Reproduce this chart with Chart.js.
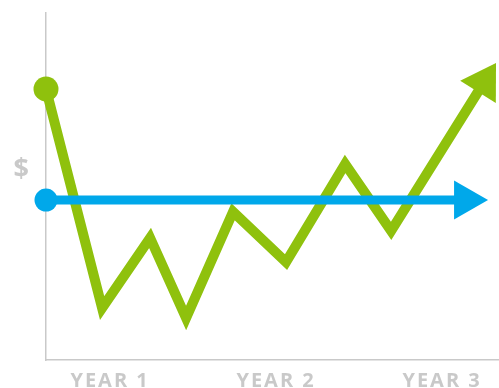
<!DOCTYPE html>
<html>
<head>
<meta charset="utf-8">
<script src="https://cdn.jsdelivr.net/npm/chart.js@4.4.1/dist/chart.umd.min.js"></script>
<style>
  html, body { margin: 0; padding: 0; background: #ffffff; overflow: hidden; }
  #wrap { width: 499px; height: 388px; position: relative; overflow: hidden; }
  #c { display: block; }
</style>
</head>
<body>
<div id="wrap"><canvas id="c"></canvas></div>
<script>
// ---- data (x in years, y in arbitrary $ units 0..100) ----
const yearTicks = [1, 2, 3];
const yearLabels = ['YEAR 1', 'YEAR 2', 'YEAR 3'];
const dollarTick = [55.0];
const dollarLabel = ['$'];

const greenX = [0.614, 0.952, 1.241, 1.458, 1.741, 2.060, 2.416, 2.693, 3.325];
const greenY = [78.1, 15.0, 35.2, 12.1, 42.7, 28.2, 56.5, 37.2, 85.6];

const blueX = [0.614, 3.277];
const blueY = [46.1, 46.1];

const xRange = [0.614, 3.343];
const yRange = [0, 100];

const GREEN = '#8fc10d';
const BLUE = '#00a8ea';
const GREY = '#c9c9c9';

const toPoints = (xs, ys) => xs.map((x, i) => ({ x, y: ys[i] }));

const arrowPlugin = {
  id: 'arrowHeads',
  beforeDraw(chart) { chart.ctx.letterSpacing = '2px'; },
  afterDraw(chart) { chart.ctx.letterSpacing = '0px'; },
  beforeDatasetDraw(chart, args) {
    const ds = chart.data.datasets[args.index];
    if (!ds.arrowHead) return;
    const pts = args.meta.data;
    const n = pts.length;
    const tip = pts[n - 1], prev = pts[n - 2];
    const dx = tip.x - prev.x, dy = tip.y - prev.y;
    const len = Math.hypot(dx, dy);
    const ux = dx / len, uy = dy / len;
    const a = { tx: tip.x, ty: tip.y, ux, uy };
    args.meta._arrowInfo = a;
    const back = ds.arrowHead.length * 0.6;
    tip.x = a.tx - ux * back;
    tip.y = a.ty - uy * back;
  },
  afterDatasetDraw(chart, args) {
    const ds = chart.data.datasets[args.index];
    const a = args.meta._arrowInfo;
    if (!ds.arrowHead || !a) return;
    const pts = args.meta.data;
    const tip = pts[pts.length - 1];
    tip.x = a.tx; tip.y = a.ty;
    const L = ds.arrowHead.length, W = ds.arrowHead.halfWidth;
    const bx = a.tx - a.ux * L, by = a.ty - a.uy * L;
    const px = -a.uy, py = a.ux;
    const ctx = chart.ctx;
    ctx.save();
    ctx.fillStyle = ds.borderColor;
    ctx.beginPath();
    ctx.moveTo(a.tx, a.ty);
    ctx.lineTo(bx + px * W, by + py * W);
    ctx.lineTo(bx - px * W, by - py * W);
    ctx.closePath();
    ctx.fill();
    ctx.restore();
  }
};

const noPad = (s) => { s.paddingLeft = 0; s.paddingRight = 0; s.paddingTop = 0; s.paddingBottom = 0; };

new Chart(document.getElementById('c'), {
  type: 'line',
  data: {
    datasets: [
      {
        data: toPoints(blueX, blueY),
        borderColor: BLUE,
        backgroundColor: BLUE,
        borderWidth: 9,
        borderCapStyle: 'butt',
        pointRadius: (c) => c.dataIndex === 0 ? 11.5 : 0,
        pointBackgroundColor: BLUE,
        pointBorderWidth: 0,
        pointHoverRadius: 0,
        tension: 0,
        clip: false,
        arrowHead: { length: 34, halfWidth: 19.5 }
      },
      {
        data: toPoints(greenX, greenY),
        borderColor: GREEN,
        backgroundColor: GREEN,
        borderWidth: 10,
        borderJoinStyle: 'miter',
        borderCapStyle: 'butt',
        pointRadius: (c) => c.dataIndex === 0 ? 12.5 : 0,
        pointBackgroundColor: GREEN,
        pointBorderWidth: 0,
        pointHoverRadius: 0,
        tension: 0,
        clip: false,
        arrowHead: { length: 34, halfWidth: 21 }
      }
    ]
  },
  options: {
    responsive: true,
    maintainAspectRatio: false,
    animation: false,
    events: [],
    layout: { autoPadding: false, padding: { top: 13, right: 0, left: 0, bottom: 0 } },
    plugins: { legend: { display: false }, tooltip: { enabled: false } },
    scales: {
      x: {
        type: 'linear',
        min: xRange[0],
        max: xRange[1],
        grid: { display: false, drawTicks: false },
        border: { display: true, color: GREY, width: 1.5 },
        afterBuildTicks: (s) => { s.ticks = yearTicks.map(v => ({ value: v })); },
        afterFit: (s) => { s.height = 28; noPad(s); },
        ticks: {
          autoSkip: false,
          maxRotation: 0,
          padding: 9,
          color: GREY,
          font: { family: '"Open Sans", sans-serif', size: 20, weight: 'bold' },
          callback: (v) => yearLabels[yearTicks.indexOf(v)]
        }
      },
      y: {
        type: 'linear',
        min: yRange[0],
        max: yRange[1],
        grid: { display: false, drawTicks: false },
        border: { display: true, color: GREY, width: 1.5 },
        afterBuildTicks: (s) => { s.ticks = dollarTick.map(v => ({ value: v })); },
        afterFit: (s) => { s.width = 46; noPad(s); },
        ticks: {
          autoSkip: false,
          padding: 15,
          color: GREY,
          font: { family: '"Open Sans", sans-serif', size: 27, weight: 'bold' },
          callback: (v) => dollarLabel[dollarTick.indexOf(v)]
        }
      }
    }
  },
  plugins: [arrowPlugin]
});
</script>
</body>
</html>
